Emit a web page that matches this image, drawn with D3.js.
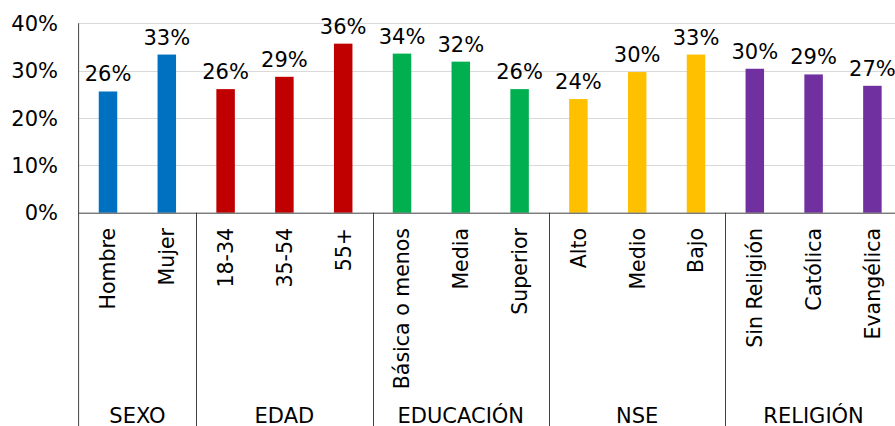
<!DOCTYPE html>
<meta charset="utf-8" />
<html>
<head>
    <style>
        body { margin: 0; background: #fff; }
        text { font-family: "DejaVu Sans", Verdana, sans-serif; fill: #000; }
        .grid line { stroke: #d9d9d9; stroke-width: 1; }
        .sep { stroke: #404040; stroke-width: 1; }
    </style>
</head>
<body>
    <svg width="895" height="426"></svg>
    <script src="https://d3js.org/d3.v7.min.js"></script>
    <script>
        // data
        var categories = ["Hombre", "Mujer", "18-34", "35-54", "55+", "Básica o menos", "Media", "Superior",
            "Alto", "Medio", "Bajo", "Sin Religión", "Católica", "Evangélica"];
        var values = [25.6, 33.4, 26.1, 28.7, 35.7, 33.6, 31.9, 26.1, 24.0, 29.7, 33.4, 30.4, 29.2, 26.8];
        var labels = ["26%", "33%", "26%", "29%", "36%", "34%", "32%", "26%", "24%", "30%", "33%", "30%", "29%", "27%"];
        var groups = ["SEXO", "EDAD", "EDUCACIÓN", "NSE", "RELIGIÓN"];
        var groupSizes = [2, 3, 3, 3, 3];
        var groupColors = ["#0070C0", "#C00000", "#00B050", "#FFC000", "#7030A0"];
        var yTicks = [0, 10, 20, 30, 40];

        var svg = d3.select("svg");
        var plotLeft = 78.6, plotRight = 901.8, plotTop = 23.3, plotBottom = 212.7, H = 426;

        var x = d3.scaleBand().domain(categories).range([plotLeft, plotRight]).paddingInner(0).paddingOuter(0);
        var y = d3.scaleLinear().domain([0, 40]).range([plotBottom, plotTop]);

        // color of each bar from its group
        var barColor = [];
        var starts = [];
        var k = 0;
        groupSizes.forEach(function (n, gi) {
            starts.push(k);
            for (var i = 0; i < n; i++) { barColor.push(groupColors[gi]); k++; }
        });

        // gridlines
        svg.append("g").attr("class", "grid")
            .selectAll("line").data(yTicks.slice(1)).enter().append("line")
            .attr("x1", plotLeft).attr("x2", plotRight)
            .attr("y1", function (d) { return Math.round(y(d)) + 0.5; })
            .attr("y2", function (d) { return Math.round(y(d)) + 0.5; });

        // tick labels
        svg.append("g").selectAll("text").data(yTicks).enter().append("text")
            .attr("x", 58).attr("y", function (d) { return y(d); })
            .attr("dy", "0.36em")
            .attr("text-anchor", "end")
            .style("font-size", "21px")
            .text(function (d) { return d + "%"; });

        var bw = 18.5;
        // bars
        svg.append("g").selectAll("rect").data(values).enter().append("rect")
            .attr("x", function (d, i) { return x(categories[i]) + x.bandwidth() / 2 - bw / 2; })
            .attr("y", function (d) { return y(d); })
            .attr("width", bw)
            .attr("height", function (d) { return plotBottom - y(d); })
            .attr("fill", function (d, i) { return barColor[i]; });

        // value labels
        svg.append("g").selectAll("text").data(values).enter().append("text")
            .attr("x", function (d, i) { return x(categories[i]) + x.bandwidth() / 2; })
            .attr("y", function (d) { return y(d) - 10; })
            .attr("text-anchor", "middle")
            .style("font-size", "21px")
            .text(function (d, i) { return labels[i]; });

        // axis lines
        svg.append("line").attr("class", "sep")
            .attr("x1", plotLeft).attr("x2", plotRight).attr("y1", plotBottom + 0.5).attr("y2", plotBottom + 0.5);
        svg.append("line").attr("class", "sep")
            .attr("x1", plotLeft).attr("x2", plotLeft).attr("y1", plotTop).attr("y2", H);

        // group separators
        starts.forEach(function (s, gi) {
            if (gi === 0) return;
            var xs = Math.round(x(categories[s])) + 0.5;
            svg.append("line").attr("class", "sep")
                .attr("x1", xs).attr("x2", xs).attr("y1", plotBottom).attr("y2", H);
        });

        // category labels (rotated)
        svg.append("g").selectAll("text").data(categories).enter().append("text")
            .attr("transform", function (d) {
                return "translate(" + (x(d) + x.bandwidth() / 2) + "," + 228 + ") rotate(-90)";
            })
            .attr("dy", "0.36em")
            .attr("text-anchor", "end")
            .style("font-size", "20.5px")
            .text(function (d) { return d; });

        // group labels
        svg.append("g").selectAll("text").data(groups).enter().append("text")
            .attr("x", function (d, gi) {
                var a = x(categories[starts[gi]]);
                var b = x(categories[starts[gi] + groupSizes[gi] - 1]) + x.bandwidth();
                return (a + b) / 2;
            })
            .attr("y", 423)
            .attr("text-anchor", "middle")
            .style("font-size", "21px")
            .text(function (d) { return d; });
    </script>
</body>
</html>
